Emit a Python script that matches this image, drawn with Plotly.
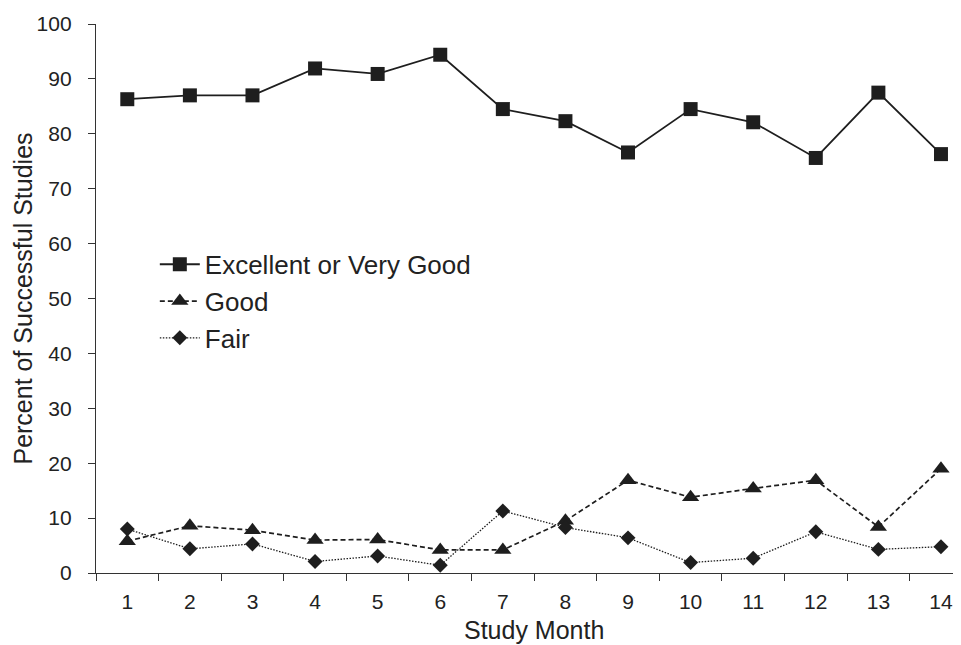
import plotly.graph_objects as go

months = list(range(1, 15))
excellent = [86.3, 87.0, 87.0, 91.9, 90.9, 94.4, 84.5, 82.3, 76.6, 84.5, 82.1, 75.6, 87.5, 76.3]
good = [5.8, 8.6, 7.8, 6.0, 6.1, 4.2, 4.2, 9.5, 16.9, 13.8, 15.4, 16.9, 8.4, 19.0]
fair = [8.0, 4.4, 5.3, 2.1, 3.1, 1.4, 11.3, 8.3, 6.4, 1.9, 2.7, 7.5, 4.3, 4.8]
y_ticks = list(range(0, 101, 10))

ink = "#1e1e1e"
fig = go.Figure()
fig.add_trace(go.Scatter(x=months, y=excellent, name="Excellent or Very Good", mode="lines+markers",
                         legendgroup="a",
                         line=dict(color=ink, width=1.8, dash="solid"),
                         marker=dict(symbol="square", size=14, color=ink)))
fig.add_trace(go.Scatter(x=months, y=good, name="Good", mode="lines+markers",
                         legendgroup="b",
                         line=dict(color=ink, width=1.7, dash="5px,3px"),
                         marker=dict(symbol="triangle-up", size=15, color=ink)))
fig.add_trace(go.Scatter(x=months, y=fair, name="Fair", mode="lines+markers",
                         legendgroup="c",
                         line=dict(color=ink, width=1.3, dash="1.5px,1.5px"),
                         marker=dict(symbol="diamond", size=11.5, color=ink)))

# page body adds an 8px offset, so the figure is 8px smaller and margins shifted
fig.update_layout(
    width=953, height=637,
    margin=dict(l=88, r=0, t=16, b=72),
    paper_bgcolor="white", plot_bgcolor="white",
    font=dict(family="Arial, Liberation Sans, sans-serif", color="#222", size=21),
    legend=dict(x=0.068, y=0.605, xanchor="left", yanchor="top", font=dict(size=26),
                bgcolor="rgba(0,0,0,0)", traceorder="grouped", tracegroupgap=0,
                itemwidth=40),
    showlegend=True,
)
fig.update_xaxes(
    range=[0.5, 14.32], tickmode="array", tickvals=months, ticktext=[str(m) for m in months],
    ticks="", showgrid=False, showline=True, linecolor="#333", linewidth=1.3,
    zeroline=False, automargin=False,
    minor=dict(tickvals=[m + 0.5 for m in range(0, 15)], ticks="outside", ticklen=7,
               tickcolor="#333", tickwidth=1.2, showgrid=False),
    ticklabelstandoff=10,
)
fig.update_yaxes(
    range=[0, 100], tickvals=y_ticks, ticks="outside", ticklen=7, tickcolor="#333", tickwidth=1.2,
    showgrid=False, showline=True, linecolor="#333", linewidth=1.3, zeroline=False,
    automargin=False, ticklabelstandoff=12,
)
fig.add_annotation(text="Percent of Successful Studies", xref="paper", yref="paper",
                   x=-0.0855, y=0.5, xanchor="center", yanchor="middle", textangle=-90,
                   showarrow=False, font=dict(size=25, color="#222"))
fig.add_annotation(text="Study Month", xref="x", yref="paper",
                   x=7.5, y=-0.103, xanchor="center", yanchor="middle",
                   showarrow=False, font=dict(size=25, color="#222"))
fig.write_html("out.html")
